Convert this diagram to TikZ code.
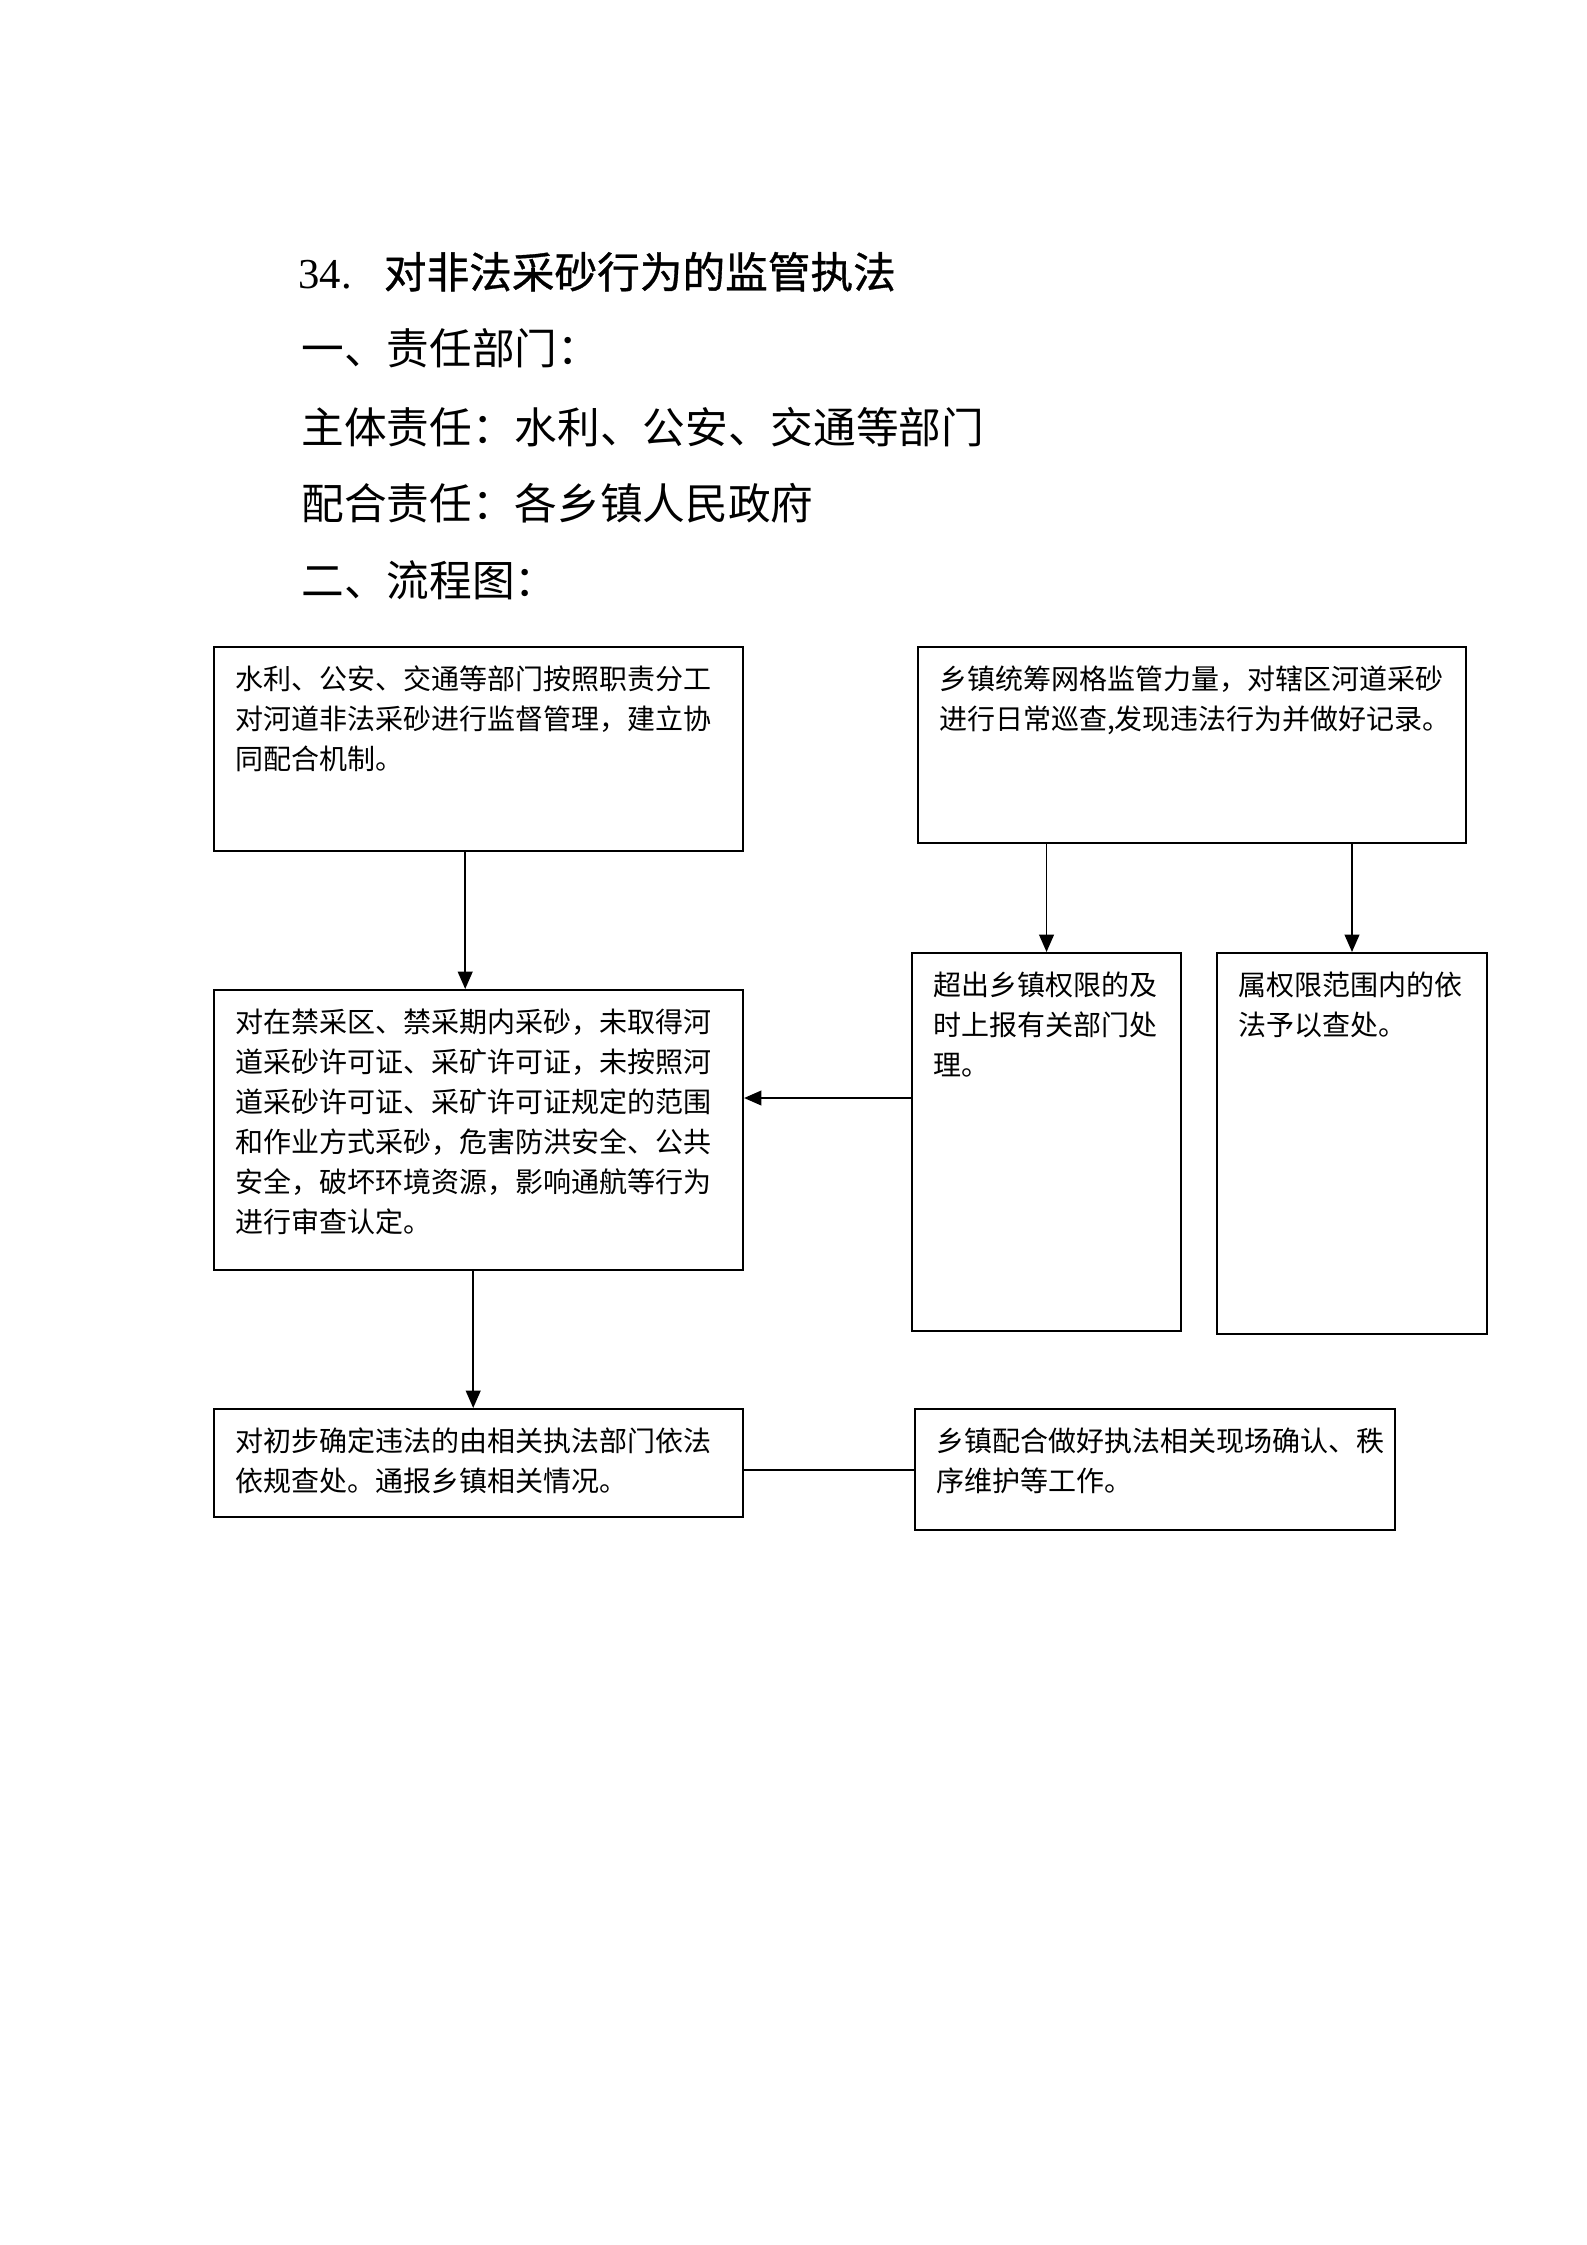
\documentclass[tikz,border=0pt]{standalone}
\usepackage{fontspec}
\setmainfont{Liberation Serif}
\newfontfamily\cjk{Noto Sans CJK SC}
\newfontfamily\cjkt[FakeBold=0.8]{Noto Sans CJK SC}
\usetikzlibrary{arrows.meta}
\newcommand\bxt[3]{\parbox[c][#2][t]{#1}{\leftskip=7.9pt\rightskip=0pt\parindent=0pt\vspace*{5.5pt}\noindent\strut #3}}
\begin{document}
\begin{tikzpicture}[x=0.375pt,y=-0.375pt,
  box/.style={draw,line width=0.75pt,inner sep=0pt,anchor=north west,font=\cjk\fontsize{10.5}{15}\selectfont},
  head/.style={anchor=base west,inner sep=0pt,font=\cjk\fontsize{16}{20}\selectfont},
  arr/.style={line width=0.7pt,-{Triangle[length=6.5pt,width=5.5pt]}},
  lnk/.style={line width=0.75pt}]
\useasboundingbox (0,0) rectangle (1587,2245);
\fill[white] (0,0) rectangle (1587,2245);

\node[head] (h0) at (298,288) {{\rmfamily 34.}\hspace{12pt}{\cjkt 对非法采砂行为的监管执法}};
\node[head] (h1) at (301,364) {一、责任部门：};
\node[head] (h2) at (301,443) {主体责任：水利、公安、交通等部门};
\node[head] (h3) at (301,519) {配合责任：各乡镇人民政府};
\node[head] (h4) at (301,596) {二、流程图：};

\node[box] (b1) at (213,646) {\bxt{198.4pt}{76.5pt}{水利、公安、交通等部门按照职责分工\\对河道非法采砂进行监督管理，建立协\\同配合机制。}};
\node[box] (b2) at (917,646) {\bxt{205.5pt}{73.5pt}{乡镇统筹网格监管力量，对辖区河道采砂\\进行日常巡查,发现违法行为并做好记录。}};
\node[box] (b3) at (213,989) {\bxt{198.4pt}{105pt}{对在禁采区、禁采期内采砂，未取得河\\道采砂许可证、采矿许可证，未按照河\\道采砂许可证、采矿许可证规定的范围\\和作业方式采砂，危害防洪安全、公共\\安全，破坏环境资源，影响通航等行为\\进行审查认定。}};
\node[box] (b4) at (911,952) {\bxt{100.9pt}{141.75pt}{超出乡镇权限的及\\时上报有关部门处\\理。}};
\node[box] (b5) at (1216,952) {\bxt{101.25pt}{142.9pt}{属权限范围内的依\\法予以查处。}};
\node[box] (b6) at (213,1408) {\bxt{198.4pt}{40.5pt}{对初步确定违法的由相关执法部门依法\\依规查处。通报乡镇相关情况。}};
\node[box] (b7) at (914,1408) {\bxt{180pt}{45.4pt}{乡镇配合做好执法相关现场确认、秩\\序维护等工作。}};

\draw[arr] ([xshift=-5pt]b1.south) -- ([xshift=-5pt]b1.south |- b3.north);
\draw[arr] (b4.north |- b2.south) -- (b4.north);
\draw[arr] (b5.north |- b2.south) -- (b5.north);
\draw[arr] ([yshift=12pt]b3.east -| b4.west) -- ([yshift=12pt]b3.east);
\draw[arr] ([xshift=-2pt]b3.south) -- ([xshift=-2pt]b3.south |- b6.north);
\draw[lnk] (b7.west) -- (b7.west -| b6.east);
\end{tikzpicture}
\end{document}
